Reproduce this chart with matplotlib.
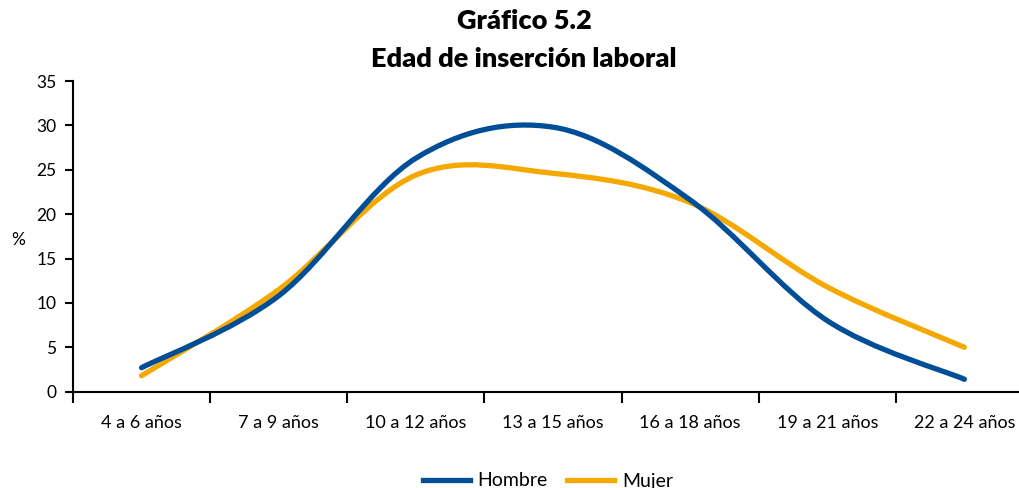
import matplotlib
matplotlib.use("Agg")
import matplotlib.pyplot as plt
from matplotlib.path import Path
from matplotlib.patches import PathPatch
from matplotlib.lines import Line2D
import numpy as np

categories = ["4 a 6 años", "7 a 9 años", "10 a 12 años", "13 a 15 años",
              "16 a 18 años", "19 a 21 años", "22 a 24 años"]
hombre = [2.7, 10.8, 26.3, 29.8, 21.6, 8.0, 1.4]
mujer = [1.8, 11.5, 24.4, 24.6, 21.3, 11.8, 5.0]
yticks = [0, 5, 10, 15, 20, 25, 30, 35]

c_h = "#004E98"
c_m = "#F5A800"

plt.rcParams['font.family'] = ['Lato', 'DejaVu Sans']

fig = plt.figure(figsize=(10.19, 4.88), dpi=100)
ax = fig.add_axes([73/1019, 1-391.7/488, (1033-73)/1019, (391.7-81)/488])


def smooth_path(xs, ys):
    pts = np.column_stack([xs, ys]).astype(float)
    n = len(pts)
    verts = [pts[0]]
    codes = [Path.MOVETO]
    for i in range(n - 1):
        p0 = pts[i - 1] if i > 0 else pts[i]
        p1 = pts[i]
        p2 = pts[i + 1]
        p3 = pts[i + 2] if i + 2 < n else pts[i + 1]
        c1 = p1 + (p2 - p0) / 6.0
        c2 = p2 - (p3 - p1) / 6.0
        verts += [c1, c2, p2]
        codes += [Path.CURVE4] * 3
    return Path(verts, codes)


x = np.arange(len(categories))
for vals, col in [(mujer, c_m), (hombre, c_h)]:
    patch = PathPatch(smooth_path(x, vals), facecolor="none", edgecolor=col,
                      lw=3.8, capstyle="round", joinstyle="round")
    ax.add_patch(patch)

ax.set_xlim(-0.5, len(categories) - 0.5)
ax.set_ylim(0, 35)
ax.set_yticks(yticks)
ax.set_yticklabels([str(v) for v in yticks], fontsize=12.5)
ax.set_xticks(np.arange(len(categories)) - 0.5, minor=False)
ax.set_xticklabels([])
ax.set_xticks(x, minor=True)
ax.set_xticklabels(categories, minor=True, fontsize=13)
ax.tick_params(axis="x", which="major", length=8, width=1.5, direction="out")
ax.tick_params(axis="x", which="minor", length=0, pad=17)
ax.tick_params(axis="y", length=6, width=1.5, direction="out", pad=6)
for s in ["top", "right"]:
    ax.spines[s].set_visible(False)
for s in ["left", "bottom"]:
    ax.spines[s].set_linewidth(1.5)

fig.text(18/1019, 1-240/488, "%", fontsize=12.5, ha="center", va="center")
fig.text(524/1019, 1-21/488, "Gráfico 5.2", fontsize=19.5, fontweight="heavy",
         ha="center", va="center")
fig.text(524/1019, 1-59/488, "Edad de inserción laboral", fontsize=19.5,
         fontweight="heavy", ha="center", va="center")

handles = [Line2D([], [], color=c_h, lw=3.8), Line2D([], [], color=c_m, lw=3.8)]
fig.legend(handles, ["Hombre", "Mujer"], loc="center", bbox_to_anchor=(548/1019, 1-481/488),
           ncol=2, frameon=False, fontsize=14, handlelength=2.4, handletextpad=0.4,
           columnspacing=1.0)

fig.savefig("out.png", dpi=100)
